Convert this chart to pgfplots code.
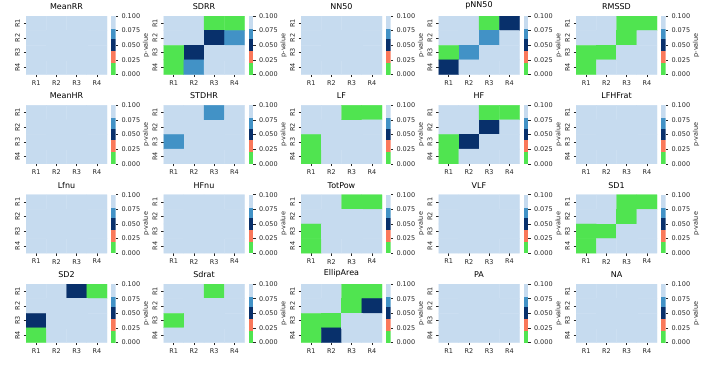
\documentclass[border=0pt]{standalone}
\usepackage{fontspec}
\setmainfont{DejaVu Sans}
\usepackage{pgfplots}
\usepackage{pgfplotstable}
\pgfplotsset{compat=1.18}
\definecolor{cG}{RGB}{80,228,80}
\definecolor{cS}{RGB}{250,120,90}
\definecolor{cN}{RGB}{8,48,107}
\definecolor{cM}{RGB}{66,146,198}
\definecolor{cL}{RGB}{198,219,239}
\definecolor{txt}{RGB}{38,38,38}
% p-values (0.5 = not significant)
\pgfplotstableread{
x y MeanRR SDRR NN50 pNN50 RMSSD MeanHR STDHR LF HF LFHFrat Lfnu HFnu TotPow VLF SD1 SD2 Sdrat EllipArea PA NA
1 1 0.5 0.5 0.5 0.5 0.5 0.5 0.5 0.5 0.5 0.5 0.5 0.5 0.5 0.5 0.5 0.5 0.5 0.5 0.5 0.5
2 1 0.5 0.5 0.5 0.5 0.5 0.5 0.5 0.5 0.5 0.5 0.5 0.5 0.5 0.5 0.5 0.5 0.5 0.5 0.5 0.5
3 1 0.5 0.01 0.5 0.01 0.01 0.5 0.07 0.01 0.01 0.5 0.5 0.5 0.01 0.5 0.01 0.05 0.01 0.01 0.5 0.5
4 1 0.5 0.01 0.5 0.05 0.01 0.5 0.5 0.01 0.01 0.5 0.5 0.5 0.01 0.5 0.01 0.01 0.5 0.01 0.5 0.5
1 2 0.5 0.5 0.5 0.5 0.5 0.5 0.5 0.5 0.5 0.5 0.5 0.5 0.5 0.5 0.5 0.5 0.5 0.5 0.5 0.5
2 2 0.5 0.5 0.5 0.5 0.5 0.5 0.5 0.5 0.5 0.5 0.5 0.5 0.5 0.5 0.5 0.5 0.5 0.5 0.5 0.5
3 2 0.5 0.05 0.5 0.07 0.01 0.5 0.5 0.5 0.05 0.5 0.5 0.5 0.5 0.5 0.01 0.5 0.5 0.01 0.5 0.5
4 2 0.5 0.07 0.5 0.5 0.5 0.5 0.5 0.5 0.5 0.5 0.5 0.5 0.5 0.5 0.5 0.5 0.5 0.05 0.5 0.5
1 3 0.5 0.01 0.5 0.01 0.01 0.5 0.07 0.01 0.01 0.5 0.5 0.5 0.01 0.5 0.01 0.05 0.01 0.01 0.5 0.5
2 3 0.5 0.05 0.5 0.07 0.01 0.5 0.5 0.5 0.05 0.5 0.5 0.5 0.5 0.5 0.01 0.5 0.5 0.01 0.5 0.5
3 3 0.5 0.5 0.5 0.5 0.5 0.5 0.5 0.5 0.5 0.5 0.5 0.5 0.5 0.5 0.5 0.5 0.5 0.5 0.5 0.5
4 3 0.5 0.5 0.5 0.5 0.5 0.5 0.5 0.5 0.5 0.5 0.5 0.5 0.5 0.5 0.5 0.5 0.5 0.5 0.5 0.5
1 4 0.5 0.01 0.5 0.05 0.01 0.5 0.5 0.01 0.01 0.5 0.5 0.5 0.01 0.5 0.01 0.01 0.5 0.01 0.5 0.5
2 4 0.5 0.07 0.5 0.5 0.5 0.5 0.5 0.5 0.5 0.5 0.5 0.5 0.5 0.5 0.5 0.5 0.5 0.05 0.5 0.5
3 4 0.5 0.5 0.5 0.5 0.5 0.5 0.5 0.5 0.5 0.5 0.5 0.5 0.5 0.5 0.5 0.5 0.5 0.5 0.5 0.5
4 4 0.5 0.5 0.5 0.5 0.5 0.5 0.5 0.5 0.5 0.5 0.5 0.5 0.5 0.5 0.5 0.5 0.5 0.5 0.5 0.5
}\pvals
\pgfplotsset{
  hm/.style={
    anchor=north west, scale only axis, width=81pt, height=58.5pt,
    xmin=0.5, xmax=4.5, ymin=0.5, ymax=4.5, y dir=reverse,
    xtick={1,2,3,4}, ytick={1,2,3,4},
    xticklabels={R1,R2,R3,R4}, yticklabels={R1,R2,R3,R4},
    xtick pos=bottom, ytick pos=left, tick align=outside,
    major tick length=2.5pt, tick style={draw=txt, line width=0.5pt},
    axis line style={draw=none},
    tick label style={font=\fontsize{6.5}{7}\selectfont, text=txt},
    yticklabel style={rotate=90, anchor=south},
    title style={font=\fontsize{8}{9}\selectfont, text=black, yshift=-3pt},
    colormap={pv}{rgb255=(80,228,80) rgb255=(250,120,90) rgb255=(8,48,107) rgb255=(66,146,198) rgb255=(198,219,239)},
    point meta min=0, point meta max=4,
  },
  cb/.style={
    anchor=north west, scale only axis, width=4.5pt, height=58.5pt,
    xmin=0, xmax=1, ymin=0, ymax=0.1, xtick=\empty,
    ytick={0,0.025,0.05,0.075,0.1},
    ytick pos=right, yticklabel pos=right, tick align=outside,
    major tick length=2.5pt, tick style={draw=txt, line width=0.5pt},
    axis line style={draw=none},
    tick label style={font=\fontsize{6.5}{7}\selectfont, text=txt},
    yticklabel style={/pgf/number format/.cd, fixed, fixed zerofill, precision=3, assume math mode=true},
    ylabel={p-value},
    every axis y label/.style={at={(axis description cs:1,0.5)}, rotate=90, anchor=north, yshift=-24pt,
      font=\fontsize{6.5}{7}\selectfont, text=txt},
  },
}
\newcommand\panel[4]{%
  \begin{axis}[hm, at={(#1pt,-#2pt)}, title={#3}]
    \addplot[matrix plot*, mesh/cols=4, point meta={min(4,floor(\thisrow{#4}/0.02))}] table[x=x,y=y] {\pvals};
  \end{axis}
  \begin{axis}[cb, at={(#1pt+85pt,-#2pt)}]
    \addplot[draw=none, fill=cG] coordinates {(0,0) (1,0) (1,0.02) (0,0.02)} -- cycle;
    \addplot[draw=none, fill=cS] coordinates {(0,0.02) (1,0.02) (1,0.04) (0,0.04)} -- cycle;
    \addplot[draw=none, fill=cN] coordinates {(0,0.04) (1,0.04) (1,0.06) (0,0.06)} -- cycle;
    \addplot[draw=none, fill=cM] coordinates {(0,0.06) (1,0.06) (1,0.078) (0,0.078)} -- cycle;
    \addplot[draw=none, fill=cL] coordinates {(0,0.078) (1,0.078) (1,0.1) (0,0.1)} -- cycle;
  \end{axis}}
\begin{document}
\begin{tikzpicture}
\useasboundingbox (0,0) rectangle (703pt,-373pt);
\panel{26}{16}{MeanRR}{MeanRR}
\panel{163.5}{16}{SDRR}{SDRR}
\panel{301}{16}{NN50}{NN50}
\panel{438.5}{16}{pNN50}{pNN50}
\panel{576}{16}{RMSSD}{RMSSD}
\panel{26}{105.3}{MeanHR}{MeanHR}
\panel{163.5}{105.3}{STDHR}{STDHR}
\panel{301}{105.3}{LF}{LF}
\panel{438.5}{105.3}{HF}{HF}
\panel{576}{105.3}{LFHFrat}{LFHFrat}
\panel{26}{194.7}{Lfnu}{Lfnu}
\panel{163.5}{194.7}{HFnu}{HFnu}
\panel{301}{194.7}{TotPow}{TotPow}
\panel{438.5}{194.7}{VLF}{VLF}
\panel{576}{194.7}{SD1}{SD1}
\panel{26}{284}{SD2}{SD2}
\panel{163.5}{284}{Sdrat}{Sdrat}
\panel{301}{284}{EllipArea}{EllipArea}
\panel{438.5}{284}{PA}{PA}
\panel{576}{284}{NA}{NA}
\end{tikzpicture}
\end{document}
